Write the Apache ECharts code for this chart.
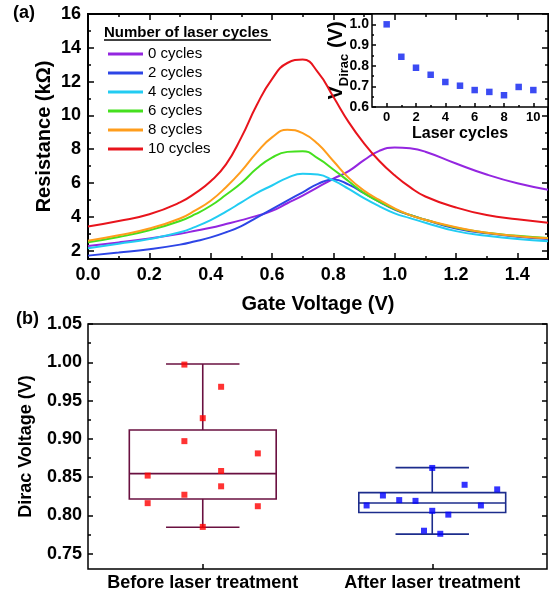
<!DOCTYPE html>
<html lang="en">
<head>
<meta charset="utf-8">
<title>Resistance and Dirac voltage</title>
<script src="https://cdn.jsdelivr.net/npm/echarts@6/dist/echarts.min.js"></script>
<style>
  html, body { margin: 0; padding: 0; background: #fff; }
  #chart { width: 553px; height: 597px; }
</style>
</head>
<body>
<div id="chart"></div>
<script>
// ---- data (a): resistance vs gate voltage ----
var gateV  = [0, 0.1, 0.2, 0.3, 0.35, 0.4, 0.45, 0.5, 0.55, 0.6, 0.65, 0.7, 0.75, 0.8, 0.85, 0.9, 0.95, 1.0, 1.05, 1.1, 1.2, 1.3, 1.4, 1.5];
var res0   = [2.27, 2.48, 2.72, 3.0, 3.17, 3.35, 3.57, 3.8, 4.05, 4.35, 4.8, 5.25, 5.75, 6.25, 6.7, 7.35, 7.9, 8.1, 8.05, 7.85, 7.15, 6.5, 5.98, 5.6];
var res2   = [1.7, 1.88, 2.08, 2.35, 2.55, 2.78, 3.08, 3.45, 3.95, 4.45, 4.95, 5.45, 5.95, 6.2, 5.9, 5.4, 4.88, 4.42, 4.1, 3.82, 3.3, 3.02, 2.82, 2.68];
var res4   = [2.13, 2.4, 2.68, 3.08, 3.4, 3.8, 4.3, 4.85, 5.4, 5.85, 6.3, 6.55, 6.5, 6.15, 5.65, 5.1, 4.62, 4.2, 3.92, 3.65, 3.15, 2.88, 2.68, 2.55];
var res6   = [2.49, 2.8, 3.2, 3.75, 4.15, 4.65, 5.3, 6.0, 6.85, 7.5, 7.84, 7.88, 7.45, 6.8, 6.1, 5.4, 4.9, 4.45, 4.1, 3.82, 3.35, 3.05, 2.87, 2.75];
var res8   = [2.58, 2.9, 3.3, 3.9, 4.38, 4.95, 5.75, 6.7, 7.8, 8.7, 9.15, 8.95, 8.3, 7.3, 6.3, 5.55, 5.0, 4.5, 4.1, 3.82, 3.38, 3.05, 2.85, 2.73];
var res10  = [3.42, 3.75, 4.15, 4.85, 5.4, 6.1, 7.1, 8.7, 10.6, 12.15, 13.1, 13.3, 12.55, 11.1, 9.6, 8.35, 7.3, 6.45, 5.75, 5.2, 4.55, 4.1, 3.85, 3.65];
var curveNames  = ['0 cycles', '2 cycles', '4 cycles', '6 cycles', '8 cycles', '10 cycles'];
var curveColors = ['#9426e0', '#2d45e6', '#22ccf2', '#45e01e', '#ff9d1c', '#e8141c'];
var gateTicks  = [0, 0.2, 0.4, 0.6, 0.8, 1.0, 1.2, 1.4];
var gateMinor  = [0.1, 0.3, 0.5, 0.7, 0.9, 1.1, 1.3];
var resTicks   = [2, 4, 6, 8, 10, 12, 14, 16];
var resMinor   = [3, 5, 7, 9, 11, 13, 15];

// ---- inset: Dirac voltage vs laser cycles ----
var laserCycles = [0, 1, 2, 3, 4, 5, 6, 7, 8, 9, 10];
var vDirac      = [1.0, 0.843, 0.79, 0.756, 0.721, 0.703, 0.682, 0.673, 0.657, 0.697, 0.682];
var cycleTicks  = [0, 2, 4, 6, 8, 10];
var cycleMinor  = [1, 3, 5, 7, 9];
var vTicks      = [0.6, 0.7, 0.8, 0.9, 1.0];
var vMinor      = [0.65, 0.75, 0.85, 0.95];

// ---- data (b): box plot ----
var groups       = ['Before laser treatment', 'After laser treatment'];
var beforeVals   = [0.997, 0.968, 0.927, 0.897, 0.881, 0.858, 0.852, 0.838, 0.827, 0.816, 0.812, 0.785];
var beforeJitter = [-0.08, 0.08, 0, -0.08, 0.24, 0.08, -0.24, 0.08, -0.08, -0.24, 0.24, 0];
var afterVals    = [0.862, 0.840, 0.834, 0.826, 0.820, 0.819, 0.813, 0.813, 0.806, 0.801, 0.780, 0.776];
var afterJitter  = [0, 0.141, 0.283, -0.215, -0.144, -0.073, -0.286, 0.212, 0, 0.07, -0.036, 0.035];
// [group, min, q1, median, q3, max]
var boxStats     = [[0, 0.7846, 0.8215, 0.8546, 0.9116, 0.9978],
                    [1, 0.7755, 0.8037, 0.8163, 0.8298, 0.8624]];
var diracTicks   = [0.75, 0.80, 0.85, 0.90, 0.95, 1.00, 1.05];
var diracMinor   = [0.775, 0.825, 0.875, 0.925, 0.975, 1.025];

var FONT = 'Liberation Sans, Arial, sans-serif';
var boxColors = ['#6a1040', '#1c2c8c'];
var boxWidth = 0.64, capWidth = 0.32;

var chart = echarts.init(document.getElementById('chart'));

// value axis that only draws ticks (and optionally labels)
function axis(gridIndex, position, min, max, ticks, len, label) {
    var a = {
        type: 'value', gridIndex: gridIndex, position: position, min: min, max: max,
        nameMoveOverlap: false,
        axisLine: {show: false, onZero: false},
        axisTick: {show: true, inside: true, length: len, customValues: ticks,
                   lineStyle: {color: '#000', width: 1.5}},
        axisLabel: {show: false},
        splitLine: {show: false}
    };
    if (label) {
        a.axisLabel = Object.assign({show: true, customValues: ticks, color: '#000',
            fontFamily: FONT, fontWeight: 'bold'}, label);
    }
    return a;
}

var nameStyle = {color: '#000', fontFamily: FONT, fontWeight: 'bold', fontSize: 20};

var xAxes = [
    Object.assign(axis(0, 'bottom', 0, 1.5, gateTicks, 6,
        {fontSize: 18, margin: 7, formatter: function (v) { return v.toFixed(1); }}),
        {name: 'Gate Voltage (V)', nameLocation: 'middle', nameGap: 35, nameTextStyle: nameStyle}),
    axis(0, 'bottom', 0, 1.5, gateMinor, 3),
    axis(0, 'top', 0, 1.5, gateTicks, 6),
    axis(0, 'top', 0, 1.5, gateMinor, 3),
    Object.assign(axis(1, 'bottom', -1, 11, cycleTicks, 4, {fontSize: 13, margin: 4}),
        {name: 'Laser cycles', nameLocation: 'middle', nameGap: 19,
         nameTextStyle: {color: '#000', fontFamily: FONT, fontWeight: 'bold', fontSize: 16}}),
    axis(1, 'bottom', -1, 11, cycleMinor, 2),
    Object.assign(axis(2, 'bottom', -0.5, 1.5, [0, 1], 5,
        {fontSize: 18, margin: 5, formatter: function (v) { return groups[Math.round(v)]; }}))
];

var yAxes = [
    Object.assign(axis(0, 'left', 1.5, 16, resTicks, 6, {fontSize: 18, margin: 7}),
        {name: 'Resistance (k\u03a9)', nameLocation: 'middle', nameGap: 34, nameTextStyle: nameStyle}),
    axis(0, 'left', 1.5, 16, resMinor, 3),
    axis(0, 'right', 1.5, 16, resTicks, 6),
    axis(0, 'right', 1.5, 16, resMinor, 3),
    Object.assign(axis(1, 'left', 0.6, 1.05, vTicks, 4,
        {fontSize: 14, margin: 3, formatter: function (v) { return v.toFixed(1); }}),
        {name: '{v|V}{s|Dirac}{v| (V)}', nameLocation: 'middle', nameGap: 21,
         nameTextStyle: {color: '#000', fontFamily: FONT, fontWeight: 'bold',
            rich: {
                v: {fontSize: 20, fontWeight: 'bold', fontFamily: FONT, lineHeight: 30, verticalAlign: 'middle'},
                s: {fontSize: 13, fontWeight: 'bold', fontFamily: FONT, lineHeight: 30, verticalAlign: 'bottom'}
            }}}),
    axis(1, 'left', 0.6, 1.05, vMinor, 2),
    Object.assign(axis(2, 'left', 0.73, 1.05, diracTicks, 5,
        {fontSize: 18, margin: 6, formatter: function (v) { return v.toFixed(2); }}),
        {name: 'Dirac Voltage (V)', nameLocation: 'middle', nameGap: 53,
         nameTextStyle: Object.assign({}, nameStyle, {fontSize: 18})}),
    axis(2, 'left', 0.73, 1.05, diracMinor, 3),
    axis(2, 'right', 0.73, 1.05, diracTicks, 5),
    axis(2, 'right', 0.73, 1.05, diracMinor, 3)
];

function renderBox(params, api) {
    var g = api.value(0);
    var lo = api.coord([g, api.value(1)]);
    var q1 = api.coord([g, api.value(2)]);
    var md = api.coord([g, api.value(3)]);
    var q3 = api.coord([g, api.value(4)]);
    var hi = api.coord([g, api.value(5)]);
    var bw = api.size([boxWidth, 0])[0];
    var cw = api.size([capWidth, 0])[0];
    var x = lo[0];
    var st = {stroke: boxColors[params.dataIndex], lineWidth: 1.6, fill: 'transparent'};
    function ln(x1, y1, x2, y2) {
        return {type: 'line', shape: {x1: x1, y1: y1, x2: x2, y2: y2}, style: st};
    }
    return {type: 'group', children: [
        {type: 'rect', shape: {x: x - bw / 2, y: q3[1], width: bw, height: q1[1] - q3[1]}, style: st},
        ln(x - bw / 2, md[1], x + bw / 2, md[1]),
        ln(x, q3[1], x, hi[1]),
        ln(x, q1[1], x, lo[1]),
        ln(x - cw / 2, hi[1], x + cw / 2, hi[1]),
        ln(x - cw / 2, lo[1], x + cw / 2, lo[1])
    ]};
}

var series = [res0, res2, res4, res6, res8, res10].map(function (vals, i) {
    return {
        name: curveNames[i], type: 'line', xAxisIndex: 0, yAxisIndex: 0,
        smooth: 0.5, symbol: 'none',
        lineStyle: {color: curveColors[i], width: 2},
        itemStyle: {color: curveColors[i]},
        data: gateV.map(function (v, j) { return [v, vals[j]]; })
    };
});

series.push({
    type: 'scatter', xAxisIndex: 4, yAxisIndex: 4, symbol: 'rect', symbolSize: 6.5,
    itemStyle: {color: '#0a1ef0'},
    data: laserCycles.map(function (c, i) { return [c, vDirac[i]]; })
});

series.push({
    type: 'custom', xAxisIndex: 6, yAxisIndex: 6, renderItem: renderBox,
    data: boxStats, z: 2
});
series.push({
    type: 'scatter', xAxisIndex: 6, yAxisIndex: 6, symbol: 'rect', symbolSize: 6, z: 3,
    itemStyle: {color: '#ff0000'},
    data: beforeVals.map(function (v, i) { return [0 + beforeJitter[i], v]; })
});
series.push({
    type: 'scatter', xAxisIndex: 6, yAxisIndex: 6, symbol: 'rect', symbolSize: 6, z: 3,
    itemStyle: {color: '#0000ff'},
    data: afterVals.map(function (v, i) { return [1 + afterJitter[i], v]; })
});

var option = {
    animation: false,
    backgroundColor: '#fff',
    grid: [
        {left: 88, top: 14, width: 460, height: 245, show: true, borderColor: '#000', borderWidth: 2, backgroundColor: 'transparent'},
        {left: 372, top: 14, width: 176, height: 93, show: true, borderColor: '#000', borderWidth: 1.5, backgroundColor: '#fff'},
        {left: 88, top: 324, width: 459, height: 245, show: true, borderColor: '#000', borderWidth: 1.5, backgroundColor: 'transparent'}
    ],
    legend: {
        data: curveNames, orient: 'vertical', left: 103, top: 41,
        itemWidth: 35, itemHeight: 3, itemGap: 3, icon: 'rect', selectedMode: false,
        textStyle: {fontSize: 15, lineHeight: 16, color: '#000', fontFamily: FONT}
    },
    graphic: [
        {type: 'text', left: 13, top: 4, style: {text: '(a)', font: 'bold 18px ' + FONT, fill: '#000'}},
        {type: 'text', left: 16, top: 310, style: {text: '(b)', font: 'bold 18px ' + FONT, fill: '#000'}},
        {type: 'text', left: 104, top: 25, style: {text: 'Number of laser cycles', font: 'bold 15px ' + FONT, fill: '#000'}},
        {type: 'line', shape: {x1: 104, y1: 40, x2: 271, y2: 40}, style: {stroke: '#000', lineWidth: 1.5}}
    ],
    xAxis: xAxes,
    yAxis: yAxes,
    series: series
};

chart.setOption(option);
window.onresize = chart.resize;
</script>
</body>
</html>
